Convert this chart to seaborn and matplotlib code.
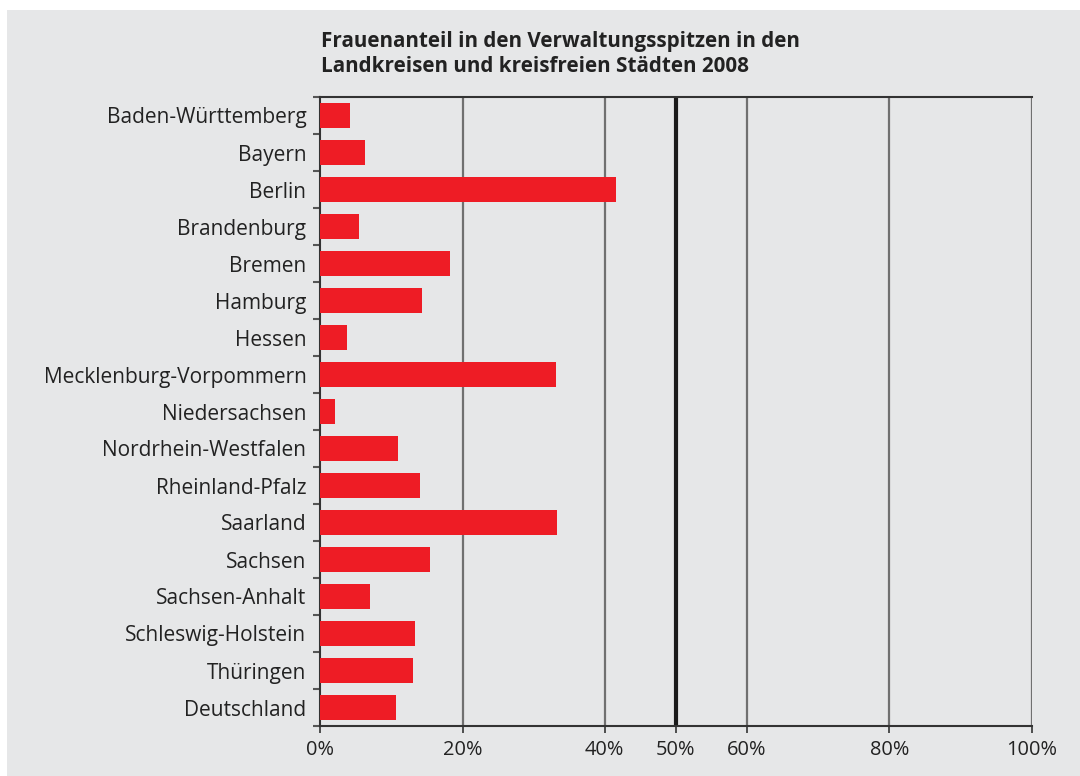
import matplotlib
matplotlib.use("Agg")
import matplotlib.pyplot as plt
import seaborn as sns
import pandas as pd
from matplotlib.patches import Rectangle

laender = ["Baden-Württemberg", "Bayern", "Berlin", "Brandenburg", "Bremen",
           "Hamburg", "Hessen", "Mecklenburg-Vorpommern", "Niedersachsen",
           "Nordrhein-Westfalen", "Rheinland-Pfalz", "Saarland", "Sachsen",
           "Sachsen-Anhalt", "Schleswig-Holstein", "Thüringen", "Deutschland"]
anteil = [4.2, 6.3, 41.6, 5.4, 18.2, 14.3, 3.8, 33.1, 2.1,
          10.9, 14.0, 33.3, 15.4, 7.0, 13.3, 13.0, 10.6]
xticks = [0, 20, 40, 50, 60, 80, 100]
xticklabels = ["0%", "20%", "40%", "50%", "60%", "80%", "100%"]
title = "Frauenanteil in den Verwaltungsspitzen in den\nLandkreisen und kreisfreien Städten 2008"

df = pd.DataFrame({"Land": laender, "Anteil": anteil})

sns.set_theme(style="white")
plt.rcParams["font.family"] = ["Open Sans", "DejaVu Sans"]

bg = "#e6e7e8"
fig = plt.figure(figsize=(10.8, 7.76), dpi=100, facecolor="white")
fig.patches.append(Rectangle((7 / 1080, 0), 1, 1 - 10 / 776, transform=fig.transFigure,
                             facecolor=bg, edgecolor="none", zorder=-10))

ax = fig.add_axes([320.3 / 1080, 1 - 726 / 776, (1031.5 - 320.3) / 1080, (726 - 97) / 776])
ax.set_facecolor(bg)

sns.barplot(data=df, x="Anteil", y="Land", orient="h", color="#ee1c25",
            saturation=1, width=0.68, ax=ax, zorder=3, edgecolor="none", linewidth=0)

ax.set_xlim(0, 100)
ax.set_ylim(len(laender) - 0.5, -0.5)
ax.set_xlabel("")
ax.set_ylabel("")

# gridlines
for v in [20, 40, 60, 80, 100]:
    ax.axvline(v, color="#707070", lw=1.6, zorder=1)
ax.axvline(50, color="#1a1a1a", lw=3, zorder=1)

ax.set_xticks(xticks)
ax.set_xticklabels(xticklabels, fontsize=14.4, color="#222222")
ax.tick_params(axis="x", direction="out", length=5, width=1.2, color="#333333", pad=5,
               bottom=True)

ax.set_yticks(range(len(laender)))
ax.set_yticklabels(laender, fontsize=15, color="#222222")
ax.tick_params(axis="y", which="major", length=0, pad=10)
ax.set_yticks([i - 0.5 for i in range(len(laender) + 1)], minor=True)
ax.tick_params(axis="y", which="minor", direction="out", length=5, width=1.5,
               color="#555555", left=True)

for s in ["left", "top", "bottom"]:
    ax.spines[s].set_visible(True)
    ax.spines[s].set_color("#333333")
    ax.spines[s].set_linewidth(1.5)
ax.spines["right"].set_visible(False)

fig.text(321 / 1080, 1 - 31 / 776, title, ha="left", va="top", fontsize=14.9,
         fontweight="bold", color="#222222", linespacing=1.25)

fig.savefig("out.png", dpi=100, facecolor=fig.get_facecolor())
